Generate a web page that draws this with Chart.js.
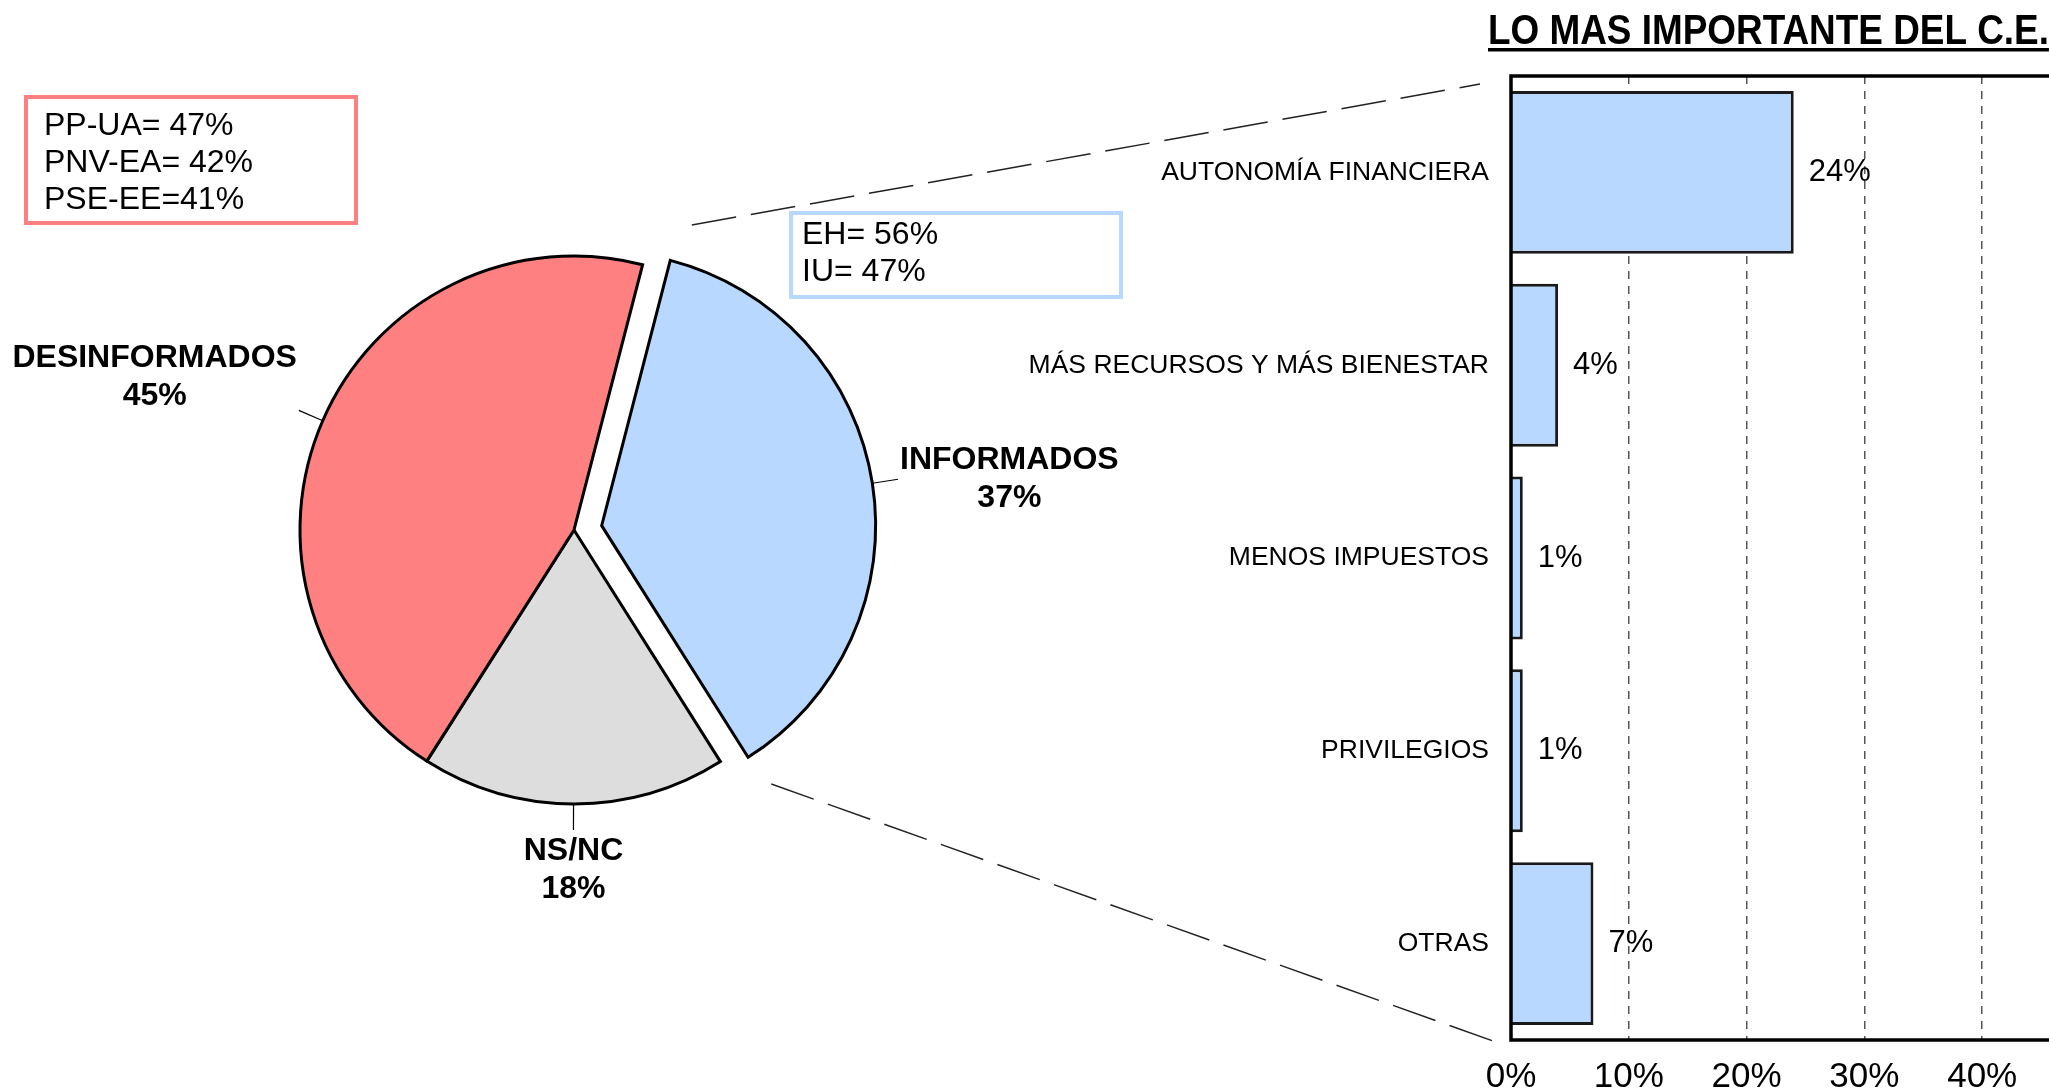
<!DOCTYPE html>
<html>
<head>
<meta charset="utf-8">
<title>Conocimiento del C.E.</title>
<script src="https://cdn.jsdelivr.net/npm/chart.js@4.4.1/dist/chart.umd.min.js"></script>
<style>
  html, body { margin: 0; padding: 0; background: #fff; overflow: hidden; }
  body { width: 2049px; height: 1092px; position: relative; }
  canvas { position: absolute; top: 0; }
  #pieChart { left: 0; }
  #barChart { left: 1000px; }
</style>
</head>
<body>
<canvas id="pieChart" width="1500" height="1092"></canvas>
<canvas id="barChart" width="1200" height="1092"></canvas>
<script>
// --- data ---
const pieCategories = ['INFORMADOS', 'NS/NC', 'DESINFORMADOS'];
const pieValues = [37, 18, 45];
const pieColors = ['#B8D8FF', '#DDDDDD', '#FF8080'];

const redNote = ['PP-UA= 47%', 'PNV-EA= 42%', 'PSE-EE=41%'];
const blueNote = ['EH= 56%', 'IU= 47%'];

const barTitle = 'LO MAS IMPORTANTE DEL C.E.';
const barCategories = ['AUTONOMÍA FINANCIERA', 'MÁS RECURSOS Y MÁS BIENESTAR', 'MENOS IMPUESTOS', 'PRIVILEGIOS', 'OTRAS'];
const barValues = [24, 4, 1, 1, 7];
const barTicks = [0, 10, 20, 30, 40, 50];

// --- styling ---
const FONT = '"Liberation Sans", Arial, sans-serif';
Chart.defaults.font.family = FONT;
Chart.defaults.color = '#000';

const EXPLODE = 28;          // distance the INFORMADOS slice is pulled out
const LEADER = 26;           // length of the label leader lines
const labelNudge = [0, 0, -33];

const barCanvas = document.getElementById('barChart');

// value labels, frame and title for the bar chart
const barDecor = {
  id: 'barDecor',
  afterDatasetsDraw(chart) {
    const ctx = chart.ctx;
    const a = chart.chartArea;
    ctx.save();
    ctx.strokeStyle = '#000';
    ctx.lineWidth = 3.5;
    ctx.strokeRect(a.left, a.top, a.right - a.left, a.bottom - a.top);

    ctx.font = '31px ' + FONT;
    ctx.fillStyle = '#000';
    ctx.textBaseline = 'middle';
    ctx.textAlign = 'left';
    chart.getDatasetMeta(0).data.forEach((bar, i) => {
      ctx.fillText(barValues[i] + '%', bar.x + 15, bar.y);
    });

    ctx.translate(a.left - 23, 44);
    ctx.scale(0.858, 1);
    ctx.font = 'bold 43px ' + FONT;
    ctx.textBaseline = 'alphabetic';
    ctx.fillText(barTitle, 0, 0);
    const w = ctx.measureText(barTitle).width;
    ctx.fillRect(0, 4, w, 3.5);
    ctx.restore();
  }
};

const barChart = new Chart(barCanvas, {
  type: 'bar',
  data: {
    labels: barCategories,
    datasets: [{
      data: barValues,
      backgroundColor: '#B8D8FF',
      borderColor: '#1a1a1a',
      borderWidth: 3,
      categoryPercentage: 0.845,
      barPercentage: 1
    }]
  },
  options: {
    indexAxis: 'y',
    responsive: false,
    animation: false,
    layout: { padding: { top: 76, right: 100, bottom: 0, left: 0 } },
    plugins: { legend: { display: false }, tooltip: { enabled: false } },
    scales: {
      x: {
        min: barTicks[0],
        max: barTicks[barTicks.length - 1],
        ticks: {
          stepSize: barTicks[1] - barTicks[0],
          callback: v => v + '%',
          font: { size: 35 },
          padding: 16,
          maxRotation: 0,
          autoSkip: false
        },
        grid: { color: '#555', lineWidth: 1.5, drawTicks: false },
        border: { display: false, dash: [8, 7] },
        afterFit(s) { s.height = 52; }
      },
      y: {
        ticks: { font: { size: 26.5 }, padding: 22, autoSkip: false },
        grid: { display: false, drawTicks: false },
        border: { display: false },
        afterFit(s) { s.width = 511; }
      }
    }
  },
  plugins: [barDecor]
});

// pull the first slice out of the pie
const explodePlugin = {
  id: 'explode',
  afterUpdate(chart) {
    const arc = chart.getDatasetMeta(0).data[0];
    const mid = (arc.startAngle + arc.endAngle) / 2;
    arc.x += Math.cos(mid) * EXPLODE;
    arc.y += Math.sin(mid) * EXPLODE;
  }
};

// leader lines + labels, note boxes and the zoom lines to the bar chart
const pieDecor = {
  id: 'pieDecor',
  afterDatasetsDraw(chart) {
    const ctx = chart.ctx;
    const arcs = chart.getDatasetMeta(0).data;
    ctx.save();
    ctx.fillStyle = '#000';
    ctx.font = 'bold 32px ' + FONT;
    ctx.textBaseline = 'middle';
    ctx.textAlign = 'center';
    arcs.forEach((arc, i) => {
      const mid = (arc.startAngle + arc.endAngle) / 2;
      const cos = Math.cos(mid), sin = Math.sin(mid);
      const r = arc.outerRadius;
      const x1 = arc.x + cos * r, y1 = arc.y + sin * r;
      const x2 = arc.x + cos * (r + LEADER), y2 = arc.y + sin * (r + LEADER);
      ctx.strokeStyle = '#000';
      ctx.lineWidth = 1.2;
      ctx.beginPath(); ctx.moveTo(x1, y1); ctx.lineTo(x2, y2); ctx.stroke();

      const lines = [pieCategories[i], pieValues[i] + '%'];
      const w = Math.max(...lines.map(t => ctx.measureText(t).width));
      const lh = 38, h = lh * lines.length;
      let cx, cy;
      if (Math.abs(cos) > Math.abs(sin)) {
        cx = x2 + Math.sign(cos) * (w / 2 + 2);
        cy = y2 + labelNudge[i];
      } else {
        cx = x2;
        cy = y2 + Math.sign(sin) * (h / 2 + 2);
      }
      lines.forEach((t, k) => ctx.fillText(t, cx, cy - h / 2 + lh / 2 + k * lh));
    });

    // note boxes
    const notes = [
      { lines: redNote, color: '#FF8080', rect: [26, 97, 330, 126], tx: 44, ty: 126 },
      { lines: blueNote, color: '#B8D8FF', rect: [791, 213, 330, 84], tx: 802, ty: 235 }
    ];
    ctx.font = '32px ' + FONT;
    ctx.textAlign = 'left';
    notes.forEach(n => {
      ctx.strokeStyle = n.color;
      ctx.lineWidth = 4;
      ctx.strokeRect(...n.rect);
      n.lines.forEach((t, k) => ctx.fillText(t, n.tx, n.ty + k * 37));
    });

    // zoom lines from the pie to the bar chart
    const base = arcs[1];
    const R = base.outerRadius;
    const b = barChart.chartArea;
    const off = barCanvas.offsetLeft;
    ctx.strokeStyle = '#222';
    ctx.lineWidth = 1.5;
    ctx.setLineDash([45, 15]);
    ctx.beginPath();
    ctx.moveTo(base.x + 0.43 * R, base.y - 1.113 * R);
    ctx.lineTo(off + b.left - 31, b.top + 8);
    ctx.moveTo(base.x + 0.72 * R, base.y + 0.927 * R);
    ctx.lineTo(off + b.left - 18, b.bottom + 1);
    ctx.stroke();
    ctx.restore();
  }
};

const pieChart = new Chart(document.getElementById('pieChart'), {
  type: 'pie',
  data: {
    labels: pieCategories,
    datasets: [{
      data: pieValues,
      backgroundColor: pieColors,
      borderColor: '#000',
      borderWidth: 3,
      borderJoinStyle: 'miter',
      radius: 274
    }]
  },
  options: {
    responsive: false,
    animation: false,
    rotation: 14.5,
    layout: { padding: { left: 0, top: 0, right: 352, bottom: 32 } },
    plugins: { legend: { display: false }, tooltip: { enabled: false } }
  },
  plugins: [explodePlugin, pieDecor]
});
</script>
</body>
</html>
